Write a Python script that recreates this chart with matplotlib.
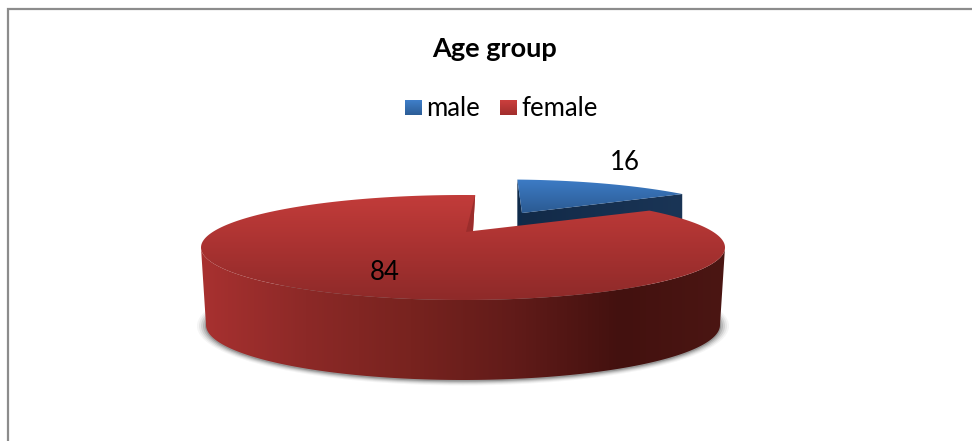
import numpy as np
import matplotlib
matplotlib.use('Agg')
import matplotlib.pyplot as plt
from matplotlib.colors import LinearSegmentedColormap
from matplotlib.patches import Ellipse, Polygon

# Chart data
title = 'Age group'
categories = ['male', 'female']
values = [16, 84]

plt.rcParams['font.family'] = ['Lato', 'DejaVu Sans']

W, H = 972, 441
fig = plt.figure(figsize=(W / 100, H / 100), dpi=100)
ax = fig.add_axes([0, 0, 1, 1])
ax.set_xlim(0, W)
ax.set_ylim(H, 0)
ax.axis('off')

# Pie geometry in pixels: top ellipse, lower ellipse and the tilted centre
cx, cy, rx, ry = 463, 247.5, 262, 52.5
low_cx, low_cy, low_rx, low_ry = 463, 325, 257, 55
apex = np.array([473.0, 231.0])
blue_apex = np.array([522.0, 213.0])
blue_scale = 0.93
blue_shear = 0.2
depth = 70
tilt_a, tilt_dir, first_angle = 0.30, 24.0, -4.8


def rim(theta_deg):
    # clockwise angle from the top -> point on the top ellipse, with perspective
    th = np.radians(np.asarray(theta_deg, dtype=float) + first_angle - tilt_dir)
    x, y = np.sin(th), np.cos(th)
    d = 1 + tilt_a * y
    x2 = x * np.sqrt(1 - tilt_a ** 2) / d
    y2 = (y + tilt_a) / d
    phi = np.radians(tilt_dir)
    xr = x2 * np.cos(phi) + y2 * np.sin(phi)
    yr = -x2 * np.sin(phi) + y2 * np.cos(phi)
    return np.column_stack([cx + rx * xr, cy - ry * yr])


def ellipse_pts(ecx, ecy, erx, ery, t0, t1, n=200):
    t = np.radians(np.linspace(t0, t1, n))
    return np.column_stack([ecx + erx * np.sin(t), ecy - ery * np.cos(t)])


def gradient_fill(pts, stops, horizontal=False, zorder=2):
    # gradient image clipped to a polygon
    pts = np.asarray(pts)
    cmap = LinearSegmentedColormap.from_list('g', stops)
    ramp = np.linspace(0, 1, 256)
    ramp = ramp[None, :] if horizontal else ramp[:, None]
    x0, x1 = pts[:, 0].min(), pts[:, 0].max()
    y0, y1 = pts[:, 1].min(), pts[:, 1].max()
    im = ax.imshow(ramp, cmap=cmap, extent=[x0, x1, y1, y0], aspect='auto',
                   interpolation='bilinear', zorder=zorder)
    patch = Polygon(pts, closed=True, transform=ax.transData, fc='none', ec='none')
    ax.add_patch(patch)
    im.set_clip_path(patch)


# Chart frame
ax.plot([W, 7.5, 7.5], [8.5, 8.5, H], color='#8c8c8c', lw=1.6, zorder=1,
        solid_joinstyle='miter')

# Angles come from the values
total = sum(values)
male_end = 360 * values[0] / total

# Soft shadow under the pie
for grow, alpha in zip([9, 7, 5, 3, 1], [0.06, 0.09, 0.14, 0.20, 0.32]):
    ax.add_patch(Ellipse((low_cx, low_cy + 1), 2 * (low_rx + grow), 2 * (low_ry + grow * 0.5),
                         fc='#555555', ec='none', alpha=alpha, zorder=1.5))

# Male slice, pulled out and slightly smaller
blue_rim = rim(np.linspace(0, male_end, 60))
vec = blue_rim - apex
blue_rim = np.column_stack([blue_apex[0] + blue_scale * (vec[:, 0] + blue_shear * vec[:, 1]),
                            blue_apex[1] + blue_scale * vec[:, 1]])
down = np.array([0, depth])
ax.add_patch(Polygon([blue_rim[0], blue_apex, blue_apex + down, blue_rim[0] + down],
                     fc='#0f2a4a', ec='none', zorder=2))
gradient_fill([blue_apex, blue_rim[-1], blue_rim[-1] + down, blue_apex + down],
              ['#122a48', '#1a3556'], horizontal=True, zorder=2.1)
gradient_fill(np.vstack([[blue_apex], blue_rim]), ['#3d7cc6', '#2b5a92'], zorder=2.2)

# Female slice: side wall first, then the top face
wall = np.vstack([ellipse_pts(cx, cy, rx, ry, 270, 90),
                  ellipse_pts(low_cx, low_cy, low_rx, low_ry, 90, 270)])
gradient_fill(wall, ['#a83130', '#8c2927', '#78231f', '#611b19', '#43110f', '#4b1613'],
              horizontal=True, zorder=3)
red_rim = rim(np.linspace(male_end, 360, 300))
gradient_fill(np.vstack([[apex], red_rim]), ['#c23c3a', '#a93231', '#8e2a29'], zorder=3.2)

# Cut face of the female slice next to the gap
ax.add_patch(Polygon([red_rim[-1], apex, apex + np.array([-7, 1])],
                     fc='#9b2d2c', ec='none', zorder=3.3))

# Slice labels
ax.text(625, 163, str(values[0]), ha='center', va='center', fontsize=18.5, color='black', zorder=5)
ax.text(385, 273, str(values[1]), ha='center', va='center', fontsize=18.5, color='black', zorder=5)

# Title and legend
ax.text(495, 49, title, ha='center', va='center', fontsize=19.5, fontweight='bold',
        color='black', zorder=5)
swatch_x = [405, 500]
swatch_stops = [['#3f7fca', '#2c5d96'], ['#cc3f3d', '#a12e2d']]
for name, x0, stops in zip(categories, swatch_x, swatch_stops):
    gradient_fill([[x0, 100], [x0 + 16.5, 100], [x0 + 16.5, 115], [x0, 115]], stops, zorder=4)
    ax.text(x0 + 21, 108, name, ha='left', va='center', fontsize=18.5, color='black', zorder=5)

ax.set_xlim(0, W)
ax.set_ylim(H, 0)
fig.savefig('out.png', dpi=100, facecolor='white')
